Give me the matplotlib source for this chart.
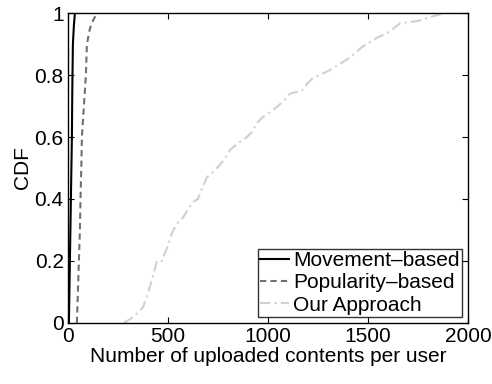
import numpy as np
import matplotlib
matplotlib.use("Agg")
import matplotlib.pyplot as plt

plt.rcParams["font.family"] = ["Liberation Sans", "DejaVu Sans"]

# CDF curves (x = uploaded contents, y = CDF)
move_x = [5, 10, 15, 20, 22, 25, 30, 35]
move_y = [0.0, 0.2, 0.4, 0.6, 0.75, 0.9, 0.96, 1.0]

pop_x = [45, 50, 55, 60, 63, 67, 70, 75, 80, 90, 95, 110, 125, 145]
pop_y = [0.0, 0.1, 0.2, 0.3, 0.4, 0.5, 0.6, 0.65, 0.7, 0.8, 0.9, 0.95, 0.975, 1.0]

our_x = [280, 320, 375, 395, 425, 445, 470, 500, 520, 545, 575, 625, 650, 675,
         695, 725, 760, 785, 810, 850, 895, 920, 945, 975, 1010, 1050, 1085,
         1110, 1170, 1200, 1225, 1310, 1395, 1435, 1470, 1545, 1610, 1660,
         1745, 1850, 1880]
our_y = [0.0, 0.016, 0.05, 0.085, 0.15, 0.2, 0.2, 0.25, 0.29, 0.32, 0.34,
         0.39, 0.40, 0.44, 0.47, 0.487, 0.51, 0.53, 0.558, 0.58, 0.60, 0.616,
         0.645, 0.665, 0.68, 0.70, 0.72, 0.74, 0.75, 0.775, 0.79, 0.816, 0.85,
         0.87, 0.89, 0.92, 0.94, 0.967, 0.974, 0.994, 1.0]

fig = plt.figure(figsize=(4.92, 3.84), dpi=100)
ax = fig.add_axes([0.138, 0.159, 0.813, 0.807])

ax.plot(move_x, move_y, color="black", lw=1.5, label="Movement\u2013based")
ax.plot(pop_x, pop_y, color="#707070", lw=1.5, ls=(0, (3, 2)), label="Popularity\u2013based")
ax.plot(our_x, our_y, color="#d0d0d0", lw=1.5, ls=(0, (5, 2, 1, 2)), label="Our Approach")

ax.set_xlim(0, 2000)
ax.set_ylim(0, 1)
ax.set_xticks([0, 500, 1000, 1500, 2000])
ax.set_yticks([0, 0.2, 0.4, 0.6, 0.8, 1])
ax.set_yticklabels(["0", "0.2", "0.4", "0.6", "0.8", "1"])
ax.tick_params(direction="in", top=True, right=True, labelsize=15, length=4, pad=3)
for s in ax.spines.values():
    s.set_linewidth(1.0)
ax.set_xlabel("Number of uploaded contents per user", fontsize=15, labelpad=1)
ax.set_ylabel("CDF", fontsize=15, labelpad=2)

leg = ax.legend(loc="lower right", fontsize=15, frameon=True, fancybox=False,
                handlelength=1.4, handletextpad=0.2, borderpad=0.1,
                labelspacing=0.15, borderaxespad=0.3)
leg.get_frame().set_edgecolor("black")
leg.get_frame().set_linewidth(1.0)

fig.savefig("out.png", dpi=100)
